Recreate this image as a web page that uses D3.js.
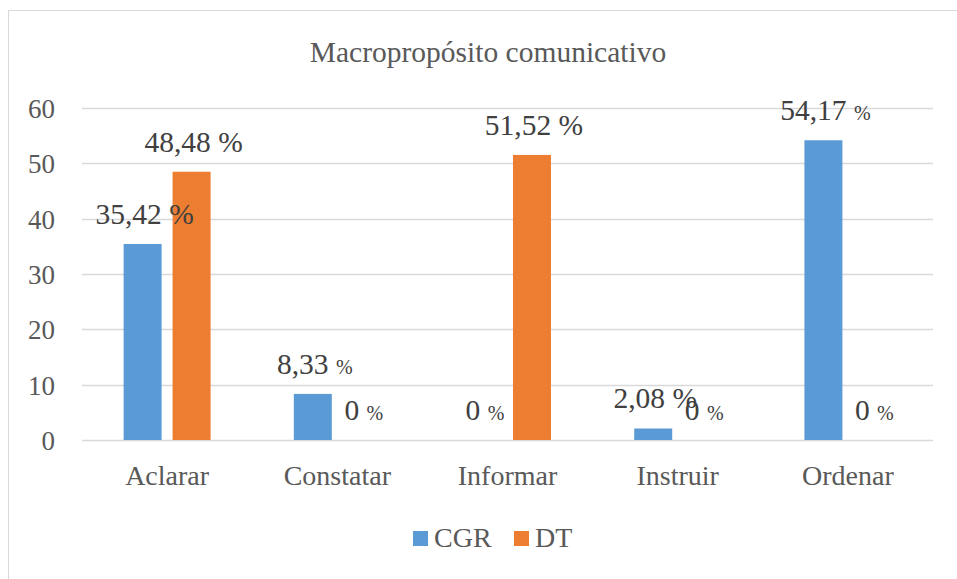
<!DOCTYPE html>
<html>
<head>
<meta charset="utf-8">
<script src="https://cdn.jsdelivr.net/npm/d3@7"></script>
<style>
  body { margin: 0; background: #fff; }
</style>
</head>
<body>
<div id="chart"></div>
<script>
// Data
const categories = ["Aclarar", "Constatar", "Informar", "Instruir", "Ordenar"]
const seriesNames = ["CGR", "DT"]
const cgrValues = [35.42, 8.33, 0, 2.08, 54.17]
const dtValues = [48.48, 0, 51.52, 0, 0]
const cgrLabels = ["35,42", "8,33", "0", "2,08", "54,17"]
const dtLabels = ["48,48", "0", "51,52", "0", "0"]
// label "%" drawn small in the original
const cgrSmallPct = [false, true, true, false, true]
const dtSmallPct = [false, true, false, true, true]
const yTicks = [0, 10, 20, 30, 40, 50, 60]

const colors = { CGR: "#5B9BD5", DT: "#ED7D31" }
const serif = "'Liberation Serif', 'Times New Roman', serif"

const width = 957, height = 579
const margin = { left: 82, right: 24, top: 108, bottom: 139 }

const svg = d3.select("#chart").append("svg")
    .attr("width", width)
    .attr("height", height)
    .attr("font-family", serif)

// chart frame
svg.append("rect")
    .attr("x", 8.5).attr("y", 10.5)
    .attr("width", 960).attr("height", 600)
    .attr("fill", "#fff")
    .attr("stroke", "#d9d9d9")

svg.append("text")
    .attr("x", 488).attr("y", 62)
    .attr("text-anchor", "middle")
    .attr("font-size", 29.5)
    .attr("fill", "#595959")
    .text("Macropropósito comunicativo")

const x = d3.scaleBand()
    .domain(categories)
    .range([margin.left, width - margin.right])

const xInner = d3.scaleBand()
    .domain(seriesNames)
    .range([0, x.bandwidth()])
    .paddingInner(0.224)
    .paddingOuter(0.85)

const y = d3.scaleLinear()
    .domain([0, 60])
    .range([height - margin.bottom, margin.top])

// gridlines
svg.append("g")
  .selectAll("line")
  .data(yTicks)
  .join("line")
    .attr("x1", margin.left)
    .attr("x2", width - margin.right)
    .attr("y1", d => Math.round(y(d)) + 0.5)
    .attr("y2", d => Math.round(y(d)) + 0.5)
    .attr("stroke", "#d9d9d9")
    .attr("stroke-width", 1.5)

// y tick labels
svg.append("g")
  .selectAll("text")
  .data(yTicks)
  .join("text")
    .attr("x", 55)
    .attr("y", d => y(d) + 10)
    .attr("text-anchor", "end")
    .attr("font-size", 27)
    .attr("fill", "#595959")
    .text(d => d)

// category labels
svg.append("g")
  .selectAll("text")
  .data(categories)
  .join("text")
    .attr("x", d => x(d) + x.bandwidth() / 2)
    .attr("y", 485)
    .attr("text-anchor", "middle")
    .attr("font-size", 28)
    .attr("fill", "#595959")
    .text(d => d)

const rows = []
categories.forEach((c, i) => {
  rows.push({ cat: c, series: "CGR", value: cgrValues[i], label: cgrLabels[i], small: cgrSmallPct[i] })
  rows.push({ cat: c, series: "DT", value: dtValues[i], label: dtLabels[i], small: dtSmallPct[i] })
})

svg.append("g")
  .selectAll("rect")
  .data(rows)
  .join("rect")
    .attr("x", d => x(d.cat) + xInner(d.series))
    .attr("y", d => y(d.value))
    .attr("width", xInner.bandwidth())
    .attr("height", d => y(0) - y(d.value))
    .attr("fill", d => colors[d.series])

const labels = svg.append("g")
  .selectAll("text")
  .data(rows)
  .join("text")
    .attr("x", d => x(d.cat) + xInner(d.series) + xInner.bandwidth() / 2 + 2)
    .attr("y", d => y(d.value) - 20)
    .attr("text-anchor", "middle")
    .attr("font-family", serif)
    .attr("font-size", 29.5)
    .attr("fill", "#404040")

labels.append("tspan")
    .text(d => d.label + " ")
labels.append("tspan")
    .attr("font-size", d => d.small ? 20 : 29.5)
    .text("%")

// legend
const legend = svg.append("g")
const legendX = [413, 514]
seriesNames.forEach((s, i) => {
  legend.append("rect")
      .attr("x", legendX[i]).attr("y", 531)
      .attr("width", 15).attr("height", 15)
      .attr("fill", colors[s])
  legend.append("text")
      .attr("x", legendX[i] + 21).attr("y", 547)
      .attr("font-size", 28)
      .attr("fill", "#595959")
      .text(s)
})
</script>
</body>
</html>
